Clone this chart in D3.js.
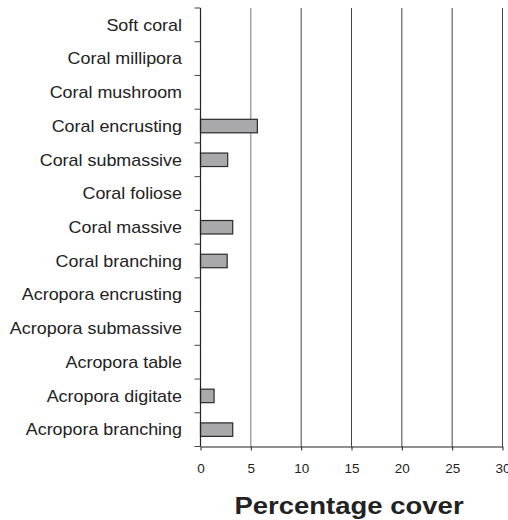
<!DOCTYPE html>
<html><head><meta charset="utf-8">
<script src="https://cdn.jsdelivr.net/npm/d3@7"></script>
<style>body{margin:0;background:#fff;} svg{display:block;}</style>
</head><body>
<svg id="c" width="508" height="520"></svg>
<script>
const categories = ["Soft coral","Coral millipora","Coral mushroom","Coral encrusting","Coral submassive","Coral foliose","Coral massive","Coral branching","Acropora encrusting","Acropora submassive","Acropora table","Acropora digitate","Acropora branching"];
const values = [0,0,0,5.65,2.7,0,3.2,2.65,0,0,0,1.35,3.2];
const xTicks = [0,5,10,15,20,25,30];
const xTitle = "Percentage cover";

const svg = d3.select("#c");
const FONT = "Liberation Sans, Arial, sans-serif";
const L = 200.5, R = 502.5, T = 8, B = 446.5;
const x = d3.scaleLinear().domain([0,30]).range([L,R]);
const y = d3.scaleBand().domain(categories).range([T,B]).paddingInner(0.6).paddingOuter(0.3);
const yb = d3.scaleBand().domain(categories).range([T,B]);

// gridlines
svg.append("g").selectAll("line").data(xTicks.slice(1)).join("line")
  .attr("x1", d=>x(d)).attr("x2", d=>x(d)).attr("y1", T).attr("y2", B)
  .attr("stroke", d=>d===5?"#777":"#444").attr("stroke-width", 1);

// bars
svg.append("g").selectAll("rect").data(categories.map((c,i)=>({c, v: values[i]})).filter(d=>d.v>0)).join("rect")
  .attr("x", x(0)).attr("y", d=>y(d.c)).attr("width", d=>x(d.v)-x(0)).attr("height", y.bandwidth())
  .attr("fill", "#a9a9ab").attr("stroke", "#2a2a2a").attr("stroke-width", 1.2);

// y axis
const yAxisG = svg.append("g");
yAxisG.append("line").attr("x1", L).attr("x2", L).attr("y1", T).attr("y2", B).attr("stroke", "#222").attr("stroke-width", 1.2);
const yTickPos = categories.map(c=>yb(c)).concat([B]);
yAxisG.selectAll("line.t").data(yTickPos).join("line").attr("class","t")
  .attr("x1", L-6).attr("x2", L).attr("y1", d=>d).attr("y2", d=>d).attr("stroke", "#444");
yAxisG.selectAll("text").data(categories).join("text")
  .attr("transform", d=>`translate(182,${yb(d)+yb.bandwidth()/2}) scale(1.12,1)`)
  .attr("dy", "0.36em")
  .attr("text-anchor", "end").attr("font-family", FONT)
  .attr("font-size", 16).attr("fill", "#222").text(d=>d);

// x axis
const xAxis = d3.axisBottom(x).tickValues(xTicks).tickSize(4).tickPadding(13).tickSizeOuter(0);
const xg = svg.append("g").attr("transform", `translate(0,${B})`).call(xAxis);
xg.select(".domain").attr("stroke", "#222").attr("stroke-width", 1.2);
xg.selectAll(".tick line").attr("stroke", "#222");
xg.selectAll("text").attr("font-family", FONT).attr("font-size", 13.5).attr("fill", "#222");

svg.append("text").attr("transform", "translate(349,514) scale(1.17,1)").attr("text-anchor", "middle")
  .attr("font-family", FONT).attr("font-weight", "bold")
  .attr("font-size", 23.5).attr("fill", "#222").text(xTitle);
</script>
</body></html>
